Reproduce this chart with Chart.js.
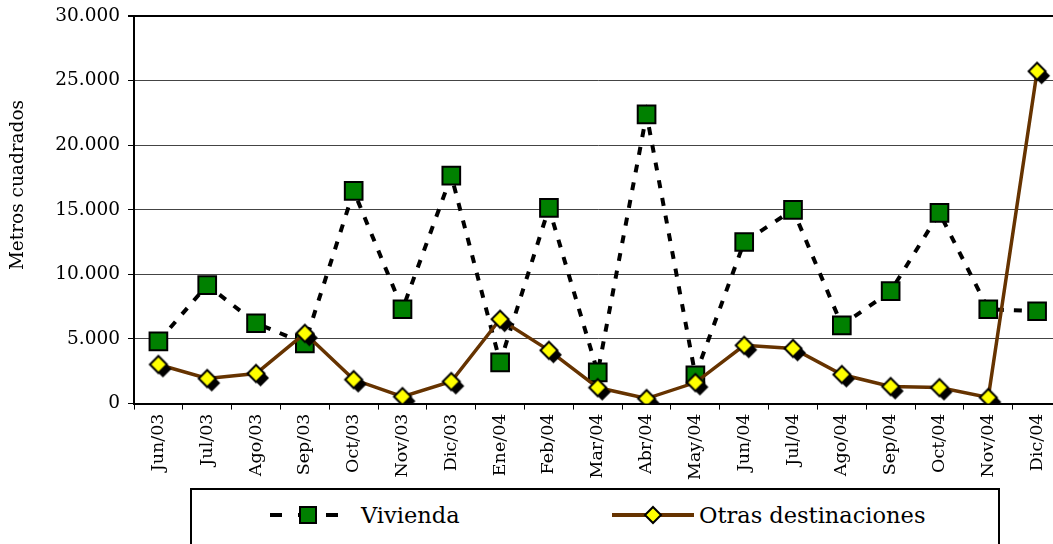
<!DOCTYPE html>
<html>
<head>
<meta charset="utf-8">
<script src="https://cdn.jsdelivr.net/npm/chart.js@4.4.1/dist/chart.umd.min.js"></script>
<style>
  html, body { margin: 0; padding: 0; background: #fff; }
  #wrap { position: relative; width: 1053px; height: 544px; overflow: hidden; }
  #chart { position: absolute; left: 0; top: 0; }
  #legend {
    position: absolute; left: 190px; top: 488px; width: 806px; height: 80px;
    border: 2px solid #000; background: #fff;
    font-family: "DejaVu Serif", serif; font-size: 22.5px; color: #000;
  }
  .item { position: absolute; top: 12px; display: flex; align-items: center; }
  .item svg { margin-right: 3px; }
</style>
</head>
<body>
<div id="wrap">
  <canvas id="chart" width="1076" height="544"></canvas>
  <div id="legend">
    <div class="item" style="left:76px">
      <svg width="90" height="24">
        <line x1="2" y1="12" x2="80" y2="12" stroke="#000" stroke-width="4" stroke-dasharray="12,16"/>
        <rect x="32" y="4" width="16" height="16" fill="#008000" stroke="#000" stroke-width="2"/>
      </svg>
      <span>Vivienda</span>
    </div>
    <div class="item" style="left:418px">
      <svg width="86" height="24">
        <line x1="2" y1="12" x2="84" y2="12" stroke="#663300" stroke-width="4"/>
        <polygon points="43,4 51,12 43,20 35,12" fill="#ffff00" stroke="#000" stroke-width="2"/>
      </svg>
      <span>Otras destinaciones</span>
    </div>
  </div>
</div>
<script>
const meses = ['Jun/03', 'Jul/03', 'Ago/03', 'Sep/03', 'Oct/03', 'Nov/03', 'Dic/03', 'Ene/04', 'Feb/04',
  'Mar/04', 'Abr/04', 'May/04', 'Jun/04', 'Jul/04', 'Ago/04', 'Sep/04', 'Oct/04', 'Nov/04', 'Dic/04'];
const vivienda = [4820, 9170, 6220, 4660, 16470, 7300, 17640, 3190, 15150,
  2410, 22380, 2180, 12510, 15000, 6060, 8700, 14760, 7300, 7150];
const otras = [3030, 1940, 2330, 5440, 1860, 540, 1710, 6530, 4120,
  1240, 390, 1630, 4510, 4270, 2250, 1320, 1240, 470, 25720];

const serif = '"DejaVu Serif", serif';

// yellow diamond with black drop shadow
function diamondMarker() {
  const c = document.createElement('canvas');
  c.width = 36; c.height = 36;
  const g = c.getContext('2d');
  const r = 8.5;
  function path(cx, cy) {
    g.beginPath();
    g.moveTo(cx, cy - r); g.lineTo(cx + r, cy); g.lineTo(cx, cy + r); g.lineTo(cx - r, cy);
    g.closePath();
  }
  path(22.5, 22.5); g.fillStyle = '#000'; g.fill();
  path(18, 18); g.fillStyle = '#ffff00'; g.fill();
  g.lineWidth = 2; g.strokeStyle = '#000'; g.stroke();
  return c;
}

// y axis title, sits a bit above the middle like in the original
const yTitle = {
  id: 'yTitle',
  afterDraw(chart) {
    const ctx = chart.ctx;
    ctx.save();
    ctx.translate(18, 185);
    ctx.rotate(-Math.PI / 2);
    ctx.font = '18.5px ' + serif;
    ctx.fillStyle = '#000';
    ctx.textAlign = 'center';
    ctx.textBaseline = 'middle';
    ctx.fillText('Metros cuadrados', 0, 0);
    ctx.restore();
  }
};

new Chart(document.getElementById('chart'), {
  type: 'line',
  data: {
    labels: meses,
    datasets: [{
      label: 'Vivienda',
      data: vivienda,
      order: 1,
      borderColor: '#000',
      borderWidth: 4,
      borderDash: [8, 10],
      borderCapStyle: 'butt',
      pointStyle: 'rect',
      pointRadius: 12.5,
      pointHoverRadius: 12.5,
      pointBackgroundColor: '#008000',
      pointBorderColor: '#000',
      pointBorderWidth: 2,
      tension: 0
    }, {
      label: 'Otras destinaciones',
      data: otras,
      order: 0,
      borderColor: '#663300',
      borderWidth: 3.5,
      pointStyle: diamondMarker(),
      pointRadius: 10,
      tension: 0
    }]
  },
  options: {
    responsive: false,
    animation: false,
    layout: { padding: { top: 16, right: 0, bottom: 60, left: 0 } },
    plugins: {
      legend: { display: false },
      tooltip: { enabled: false }
    },
    scales: {
      x: {
        offset: true,
        grid: { offset: true, drawOnChartArea: false, color: '#000', tickLength: 6, lineWidth: 1 },
        border: { color: '#000', width: 2 },
        ticks: { color: '#000', font: { family: serif, size: 17.5 }, minRotation: 90, maxRotation: 90, padding: 4 }
      },
      y: {
        min: 0,
        max: 30000,
        afterFit: (s) => { s.width = 134; s.paddingTop = 0; },
        grid: {
          color: (ctx) => ctx.tick && ctx.tick.value === 30000 ? '#000' : '#444',
          lineWidth: (ctx) => ctx.tick && ctx.tick.value === 30000 ? 2 : 1,
          tickColor: '#000',
          tickLength: 6
        },
        border: { color: '#000', width: 2 },
        ticks: {
          stepSize: 5000,
          color: '#000',
          font: { family: serif, size: 18.5 },
          padding: 8,
          callback: (v) => v.toLocaleString('de-DE')
        }
      }
    }
  },
  plugins: [yTitle]
});
</script>
</body>
</html>
